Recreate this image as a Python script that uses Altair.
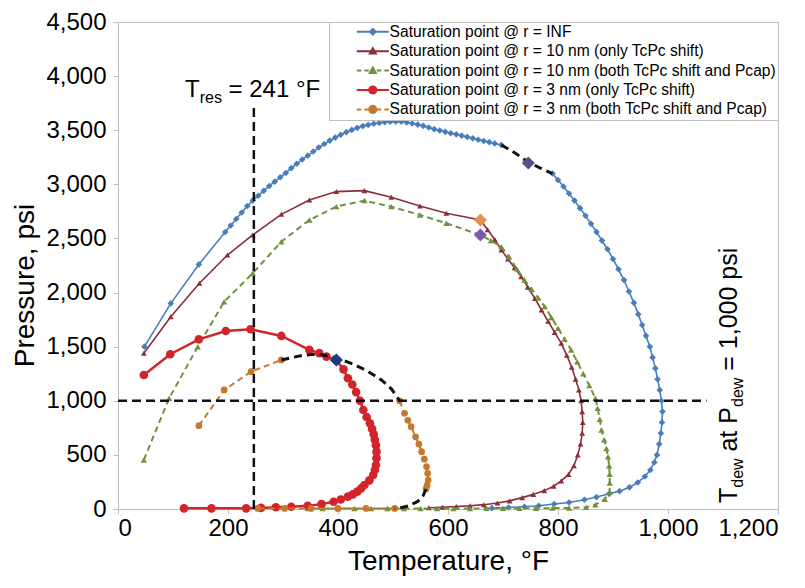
import altair as alt
import pandas as pd

FONT = "Liberation Sans"

SERIES = [
    "Saturation point @ r = INF",
    "Saturation point @ r = 10 nm (only TcPc shift)",
    "Saturation point @ r = 10 nm (both TcPc shift and Pcap)",
    "Saturation point @ r = 3 nm (only TcPc shift)",
    "Saturation point @ r = 3 nm (both TcPc shift and Pcap)",
]
COLORS = ["#4A7EBB", "#8B2D3B", "#72913D", "#D2252B", "#C47A2E"]

X_TICKS = [0, 200, 400, 600, 800, 1000, 1200]
Y_TICKS = [0, 500, 1000, 1500, 2000, 2500, 3000, 3500, 4000, 4500]

# ---- r = INF (two pieces, the gap is bridged by a black dashed piece)
INF_A_T = [48, 96, 147, 195, 205, 215, 225, 235, 245, 255, 265, 275, 285, 295, 305, 315, 325, 335,
           345, 355, 365, 375, 385, 395, 405, 415, 425, 435, 445, 455, 465, 475, 485, 495, 505, 515,
           525, 535, 545, 555, 565, 575, 585, 595, 605, 615, 625, 635, 645, 655, 665, 675, 685, 697]
INF_A_P = [1500, 1900, 2260, 2560, 2620, 2680, 2740, 2800, 2850, 2895, 2940, 2985, 3025, 3065, 3105,
           3150, 3190, 3230, 3265, 3303, 3340, 3373, 3404, 3432, 3458, 3482, 3503, 3522, 3538, 3550,
           3560, 3568, 3574, 3578, 3580, 3578, 3572, 3562, 3552, 3540, 3525, 3510, 3497, 3485, 3472,
           3462, 3450, 3438, 3425, 3412, 3400, 3390, 3378, 3364]
INF_B_T = [790, 800, 810, 820, 830, 840, 850, 860, 870, 880, 890, 900, 910, 920, 929, 938, 946, 953,
           960, 967, 972, 977, 981, 985, 988, 990, 989, 987, 984, 980, 975, 968, 958, 945, 930, 912,
           893, 870, 848, 820, 793, 765, 739, 710, 680]
INF_B_P = [3100, 3040, 2980, 2915, 2850, 2780, 2710, 2635, 2560, 2480, 2400, 2310, 2215, 2115, 2010,
           1905, 1800, 1700, 1600, 1500, 1400, 1300, 1200, 1100, 1000, 900, 800, 700, 600, 500, 430,
           360, 300, 245, 200, 165, 140, 110, 85, 60, 46, 30, 21, 14, 8]
INF_BLACK_T = [697, 722, 746, 768, 790]
INF_BLACK_P = [3364, 3290, 3205, 3150, 3100]

# ---- r = 10 nm, only TcPc shift
R10A_T = [47, 96, 148, 199, 245, 297, 348, 397, 448, 497, 549, 597, 659, 672, 685, 697, 709, 721, 733,
          745, 758, 770, 782, 794, 806, 816, 825, 832, 838, 842, 844, 845, 844, 841, 836, 829, 819, 806,
          792, 775, 755, 735, 712, 690, 665, 640, 615, 590, 565]
R10A_P = [1440, 1777, 2086, 2347, 2532, 2723, 2856, 2933, 2942, 2880, 2800, 2733, 2671, 2580, 2490,
          2394, 2310, 2230, 2147, 2050, 1945, 1839, 1735, 1632, 1531, 1420, 1310, 1200, 1100, 1000,
          900, 800, 700, 600, 500, 400, 320, 260, 210, 170, 135, 105, 75, 55, 40, 30, 22, 16, 12]

# ---- r = 10 nm, both TcPc shift and Pcap
R10B_T = [47, 93, 145, 193, 245, 297, 348, 397, 448, 497, 549, 597, 659, 678, 697, 711, 725, 739, 752,
          764, 776, 788, 800, 812, 824, 835, 846, 857, 868, 872, 876, 879, 884, 888, 891, 893, 894, 894,
          894, 885, 868, 851, 820, 790, 760, 730, 700, 670, 640, 610, 580, 550, 520, 490, 460, 430,
          400, 372, 345]
R10B_P = [453, 1023, 1500, 1916, 2178, 2470, 2671, 2794, 2850, 2794, 2717, 2640, 2532, 2480, 2424,
          2330, 2220, 2116, 2030, 1950, 1870, 1770, 1670, 1570, 1470, 1360, 1250, 1140, 1023, 930,
          830, 730, 640, 560, 483, 400, 320, 240, 160, 90, 40, 15, 10, 8, 7, 6, 6, 6, 5, 5, 5, 5, 5,
          5, 5, 5, 5, 5, 5]

# ---- r = 3 nm, only TcPc shift
R3A_T = [47, 95, 147, 196, 241, 297, 348, 366, 379, 397, 410, 418, 426, 433, 440, 446, 452, 458, 462,
         465, 467, 469, 470, 470, 469, 467, 464, 457, 448, 442, 435, 427, 418, 405, 392, 370, 345,
         315, 287, 260, 233, 170, 120]
R3A_P = [1238, 1430, 1568, 1645, 1661, 1599, 1470, 1440, 1408, 1377, 1290, 1208, 1150, 1080, 1000,
         915, 850, 792, 740, 690, 640, 590, 530, 470, 406, 360, 314, 265, 222, 190, 160, 135, 114,
         88, 67, 45, 30, 21, 16, 10, 6, 6, 6]

# ---- r = 3 nm, both TcPc shift and Pcap (three pieces + two black dashed bridges)
R3B_1_T = [147, 193, 242, 297]
R3B_1_P = [770, 1100, 1269, 1377]
R3B_2_T = [512, 521, 527, 533, 541, 547, 552, 557, 561, 563, 564, 562, 560]
R3B_2_P = [1000, 884, 820, 761, 667, 600, 530, 460, 391, 330, 268, 220, 185]
R3B_3_T = [503, 451, 400, 351, 303, 254]
R3B_3_P = [5, 5, 5, 5, 5, 5]
R3B_BLACK1_T = [297, 335, 363, 395, 424, 452, 479, 497, 512]
R3B_BLACK1_P = [1377, 1420, 1432, 1400, 1346, 1280, 1192, 1110, 1000]
R3B_BLACK2_T = [560, 555, 545, 530, 515, 503]
R3B_BLACK2_P = [185, 125, 70, 32, 12, 5]

# ---- highlighted diamonds
DIAMOND_NAMES = ["inf", "r10a", "r10b", "r3"]
DIAMOND_T = [746, 659, 659, 397]
DIAMOND_P = [3197, 2671, 2532, 1377]
DIAMOND_COLORS = ["#5A4E84", "#E0944C", "#7E57B0", "#1E3A80"]

# ---- reference lines
T_RES = 247
T_RES_TOP = 3705
P_DEW = 1000
P_DEW_RIGHT = 1070

for a, b in [(INF_A_T, INF_A_P), (INF_B_T, INF_B_P), (R10A_T, R10A_P), (R10B_T, R10B_P),
             (R3A_T, R3A_P), (R3B_2_T, R3B_2_P), (R3B_BLACK1_T, R3B_BLACK1_P)]:
    assert len(a) == len(b)


def frame(pieces):
    rows = []
    for seg, (ts, ps) in enumerate(pieces):
        for i, (t, p) in enumerate(zip(ts, ps)):
            rows.append({"T": t, "P": p, "seg": seg, "i": i})
    return pd.DataFrame(rows)


X = alt.X("T:Q", scale=alt.Scale(domain=[0, 1200], nice=False, zero=False),
          axis=alt.Axis(values=X_TICKS, format=",d", title="Temperature, °F", labelPadding=2,
                        titlePadding=7, labelFlush=True, grid=False))
Y = alt.Y("P:Q", scale=alt.Scale(domain=[0, 4500], nice=False, zero=False),
          axis=alt.Axis(values=Y_TICKS, format=",d", title="Pressure, psi", labelPadding=7,
                        titlePadding=6, titleY=263, labelFlush=False, grid=False))


def lines(df, color, width, dash=None):
    kw = dict(color=color, strokeWidth=width)
    if dash:
        kw["strokeDash"] = dash
    return alt.Chart(df).mark_line(**kw).encode(x=X, y=Y, detail="seg:N", order="i:Q")


def points(df, color, shape, size):
    return alt.Chart(df).mark_point(shape=shape, filled=True, size=size, color=color,
                                    opacity=1, strokeWidth=0).encode(x=X, y=Y)


inf_df = frame([(INF_A_T, INF_A_P), (INF_B_T, INF_B_P)])
r10a_df = frame([(R10A_T, R10A_P)])
r10b_df = frame([(R10B_T, R10B_P)])
r3a_df = frame([(R3A_T, R3A_P)])
r3b_df = frame([(R3B_1_T, R3B_1_P), (R3B_2_T, R3B_2_P), (R3B_3_T, R3B_3_P)])
black_df = frame([(INF_BLACK_T, INF_BLACK_P), (R3B_BLACK1_T, R3B_BLACK1_P),
                  (R3B_BLACK2_T, R3B_BLACK2_P)])

layers = [
    lines(inf_df, COLORS[0], 1.6), points(inf_df, COLORS[0], "diamond", 44),
    lines(r10a_df, COLORS[1], 1.6), points(r10a_df, COLORS[1], "triangle-up", 34),
    lines(r10b_df, COLORS[2], 2, [6, 4]), points(r10b_df, COLORS[2], "triangle-up", 40),
    lines(r3a_df, COLORS[3], 2.5), points(r3a_df, COLORS[3], "circle", 75),
    lines(r3b_df, COLORS[4], 2, [6, 4]), points(r3b_df, COLORS[4], "circle", 45),
    lines(black_df, "#111111", 3, [8, 5]),
]

# reference lines
vdf = pd.DataFrame({"T": [T_RES], "P": [0], "P2": [T_RES_TOP]})
hdf = pd.DataFrame({"T": [0], "T2": [P_DEW_RIGHT], "P": [P_DEW]})
layers.append(alt.Chart(vdf).mark_rule(color="#111111", strokeWidth=2.5, strokeDash=[9, 5])
              .encode(x=X, y=Y, y2="P2:Q"))
layers.append(alt.Chart(hdf).mark_rule(color="#111111", strokeWidth=2.5, strokeDash=[9, 5])
              .encode(x=X, x2="T2:Q", y=Y))

# highlighted diamonds
ddf = pd.DataFrame({"T": DIAMOND_T, "P": DIAMOND_P, "name": DIAMOND_NAMES})
layers.append(alt.Chart(ddf).mark_point(shape="diamond", filled=True, size=170, opacity=1,
                                        strokeWidth=0)
              .encode(x=X, y=Y, color=alt.Color("name:N", scale=alt.Scale(domain=DIAMOND_NAMES,
                                                                          range=DIAMOND_COLORS),
                                                legend=None)))

# annotations
main_h = pd.DataFrame({"T": [121.8, 201], "P": [3811, 3811], "label": ["T", "= 241 °F"]})
sub_h = pd.DataFrame({"T": [148.5], "P": [3752], "label": ["res"]})
main_v = pd.DataFrame({"T": [1125, 1125, 1125], "P": [55, 531, 1278],
                       "label": ["T", "at P", "= 1,000 psi"]})
sub_v = pd.DataFrame({"T": [1136, 1136], "P": [197, 943], "label": ["dew", "dew"]})
layers.append(alt.Chart(main_h).mark_text(align="left", baseline="alphabetic", font=FONT,
                                          fontSize=24, color="#000")
              .encode(x=X, y=Y, text="label:N"))
layers.append(alt.Chart(sub_h).mark_text(align="left", baseline="alphabetic", font=FONT,
                                         fontSize=16, color="#000")
              .encode(x=X, y=Y, text="label:N"))
layers.append(alt.Chart(main_v).mark_text(align="left", baseline="alphabetic", font=FONT,
                                          fontSize=25, angle=270, color="#000")
              .encode(x=X, y=Y, text="label:N"))
layers.append(alt.Chart(sub_v).mark_text(align="left", baseline="alphabetic", font=FONT,
                                         fontSize=16, angle=270, color="#000")
              .encode(x=X, y=Y, text="label:N"))

# legend (symbols drawn as line + marker paths, legend-only layer clipped away)
SOLID = "M-4,0L4,0"
DASHED = "M-4,0L-2.9,0M-2.1,0L-1,0M1,0L2.1,0M2.9,0L4,0"
DIA = "M0,-0.7L0.7,0L0,0.7L-0.7,0Z"
TRI = "M0,-0.75L0.75,0.6L-0.75,0.6Z"
CIR = "M-0.9,0A0.9 0.9 0 1 0 0.9,0A0.9 0.9 0 1 0 -0.9,0Z"
LEGEND_SHAPES = [SOLID + DIA, SOLID + TRI, DASHED + TRI, SOLID + CIR, DASHED + CIR]

leg = alt.Legend(title=None, orient="top-right", offset=0, padding=2, strokeColor="#BFBFBF",
                 fillColor="white", labelFont=FONT, labelFontSize=15.6, labelColor="#000",
                 labelLimit=600, symbolSize=64, symbolStrokeWidth=2, labelOffset=9,
                 symbolOffset=34, rowPadding=2.4, cornerRadius=0)
ldf = pd.DataFrame({"T": [-100] * 5, "P": [-100] * 5, "series": SERIES})
cscale = alt.Scale(domain=SERIES, range=COLORS)
layers.append(alt.Chart(ldf).mark_point(filled=True, size=64, clip=True, opacity=1)
              .encode(x=X, y=Y,
                      fill=alt.Fill("series:N", scale=cscale, legend=leg),
                      stroke=alt.Stroke("series:N", scale=cscale, legend=leg),
                      shape=alt.Shape("series:N", scale=alt.Scale(domain=SERIES, range=LEGEND_SHAPES),
                                      legend=leg)))

chart = alt.layer(*layers).properties(
    width=660, height=487,
    padding={"left": 110, "top": 14, "right": 19, "bottom": 67},
    autosize=alt.AutoSizeParams(type="none"),
).configure_view(stroke="#BFBFBF", strokeWidth=1).configure_axis(
    domainColor="#BFBFBF", tickColor="#BFBFBF", tickSize=5, labelFont=FONT, labelFontSize=24,
    labelColor="#000", titleFont=FONT, titleFontSize=28, titleFontWeight="normal", titleColor="#000",
)

chart.save("out.html", embed_options={"renderer": "svg", "actions": False})
